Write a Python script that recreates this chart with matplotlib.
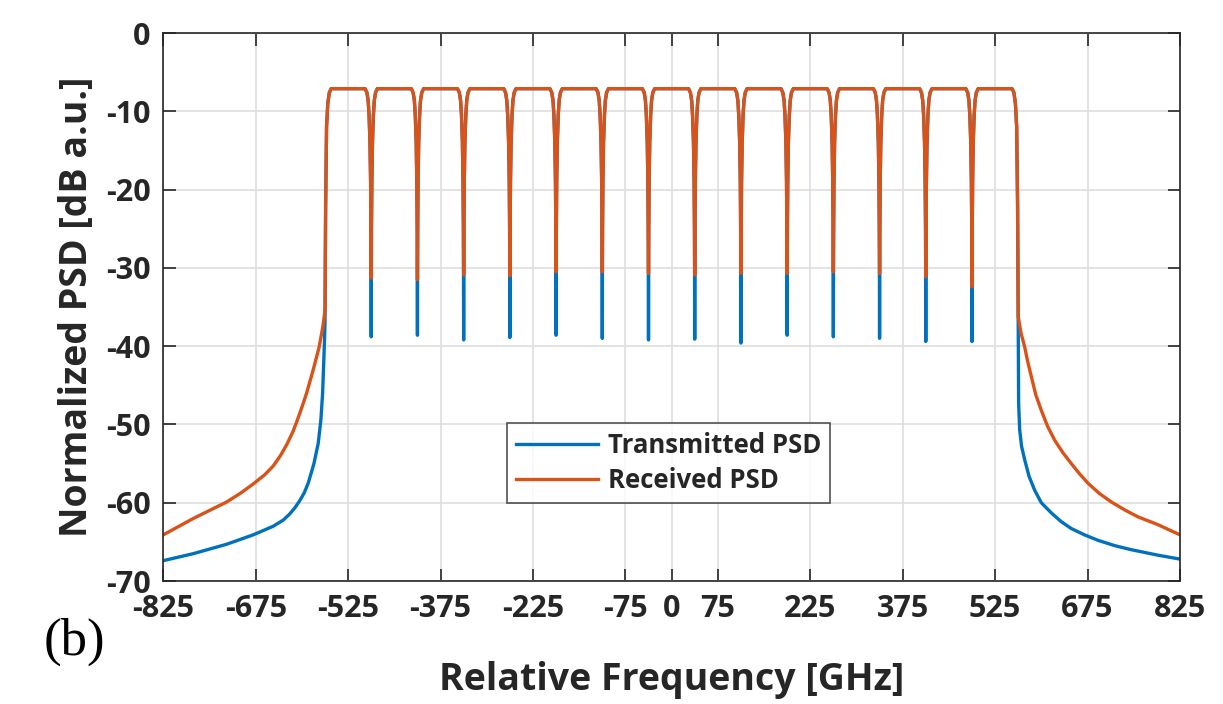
import numpy as np
import matplotlib
matplotlib.use("Agg")
import matplotlib.pyplot as plt

# Channel notch positions (GHz) and the bottom level of each notch (dB)
dip_freqs = [-487.5, -412.5, -337.5, -262.5, -187.5, -112.5, -37.5,
             37.5, 112.5, 187.5, 262.5, 337.5, 412.5, 487.5]
tx_dip_db = [-38.8, -38.6, -39.2, -38.9, -38.6, -39.0, -39.2,
             -39.1, -39.6, -38.6, -38.8, -39.0, -39.4, -39.4]
rx_dip_db = [-31.3, -31.5, -30.9, -31.0, -30.5, -30.5, -30.7,
             -30.9, -30.7, -30.7, -30.5, -30.7, -31.1, -32.4]

# Band edges
band_edges = [-562.5, 562.5]

# Notch shape (offset from notch centre in GHz, level in dB)
notch_off = [-10, -7, -5, -3.5, -2, -1, -0.4, 0, 0.4, 1, 2, 3.5, 5, 7, 10]
notch_db = [-7.1, -7.6, -8.6, -10.5, -14, -19, -25, None, -25, -19, -14, -10.5, -8.6, -7.6, -7.1]

# Band-edge roll-off (inward offset from edge in GHz, level in dB)
edge_off = [1, 2.5, 4.5, 7, 10]
edge_db = [-22, -12, -9, -7.6, -7.1]

# Out-of-band tails
tx_left_f = [-825, -776, -722, -679, -646.5, -630, -619.4, -611, -603.2, -596,
             -589.8, -580.5, -573.5, -569.2, -566.4, -564.5, -563.2, -562.5]
tx_left_db = [-67.4, -66.5, -65.3, -64.1, -63.0, -62.2, -61.4, -60.6, -59.7, -58.7,
              -57.5, -55.0, -52.4, -49.4, -46.0, -42.0, -39.0, -36.8]
rx_left_f = [-825, -776, -722, -700, -679, -660, -646.5, -635, -624.8, -615,
             -608.6, -600, -592.4, -581.6, -572, -566, -562.5]
rx_left_db = [-64.1, -62.0, -59.9, -58.8, -57.6, -56.4, -55.3, -54.0, -52.6, -51.0,
              -49.7, -47.8, -46.0, -43.0, -40.1, -37.5, -35.5]
tx_right_f = [562.5, 563.2, 564.9, 568, 573, 580, 589.2, 600, 616.3, 632, 648.7,
              670, 691.9, 720, 746, 789.2, 825]
tx_right_db = [-36.7, -47.3, -50.7, -52.8, -54.5, -56.6, -58.4, -60.0, -61.3, -62.4,
               -63.3, -64.1, -64.8, -65.5, -66.0, -66.7, -67.2]
rx_right_f = [562.5, 567, 573, 578, 583.8, 591, 600, 610, 621.6, 635, 648.7,
              662, 675.7, 694, 713.6, 735, 756.8, 789.2, 825]
rx_right_db = [-36.2, -38.3, -40.1, -42.0, -43.9, -46.2, -48.2, -50.2, -52.0, -53.6,
               -55.0, -56.3, -57.5, -58.8, -59.9, -60.9, -61.8, -62.8, -64.1]

x_ticks = [-825, -675, -525, -375, -225, -75, 0, 75, 225, 375, 525, 675, 825]


def build_trace(left_f, left_db, dips, right_f, right_db):
    f = list(left_f)
    p = list(left_db)
    # left band edge
    for o, d in zip(edge_off, edge_db):
        f.append(band_edges[0] + o)
        p.append(d)
    # notches between channels
    for c, bottom in zip(dip_freqs, dips):
        for o, d in zip(notch_off, notch_db):
            f.append(c + o)
            p.append(bottom if d is None else d)
    # right band edge
    for o, d in zip(edge_off[::-1], edge_db[::-1]):
        f.append(band_edges[1] - o)
        p.append(d)
    f += list(right_f)
    p += list(right_db)
    return np.array(f), np.array(p)


tx_f, tx_p = build_trace(tx_left_f, tx_left_db, tx_dip_db, tx_right_f, tx_right_db)
rx_f, rx_p = build_trace(rx_left_f, rx_left_db, rx_dip_db, rx_right_f, rx_right_db)

plt.rcParams['font.family'] = ['Open Sans', 'DejaVu Sans']
plt.rcParams['axes.unicode_minus'] = False
text_color = '#262626'

fig = plt.figure(figsize=(12.23, 7.04), dpi=100)
ax = fig.add_axes([0.1335, 0.1747, 0.8313, 0.7783])

ax.plot(tx_f, tx_p, color='#0072BD', lw=2.4, label='Transmitted PSD')
ax.plot(rx_f, rx_p, color='#D95319', lw=2.4, label='Received PSD')

ax.set_xlim(-825, 825)
ax.set_ylim(-70, 0)
ax.set_xticks(x_ticks)
ax.set_xticklabels([str(t) for t in x_ticks])
ax.set_yticks(range(-70, 1, 10))

ax.grid(True, color='#dedede', lw=1.2)
ax.set_axisbelow(True)
ax.tick_params(direction='in', top=True, right=True, length=9, width=1.2,
               colors=text_color, labelsize=22, pad=9)
for lab in ax.get_xticklabels() + ax.get_yticklabels():
    lab.set_fontweight('bold')
for s in ax.spines.values():
    s.set_color(text_color)
    s.set_linewidth(1.2)

ax.set_xlabel('Relative Frequency [GHz]', fontsize=27, fontweight='bold',
              color=text_color, labelpad=27)
ax.set_ylabel('Normalized PSD [dB a.u.]', fontsize=27, fontweight='bold',
              color=text_color, labelpad=7)

leg = ax.legend(loc='center', bbox_to_anchor=(0.497, 0.216), fancybox=False,
                edgecolor=text_color, prop={'size': 18.5, 'weight': 'bold'},
                handlelength=3.2, handletextpad=0.4, borderpad=0.35,
                labelspacing=0.3)
leg.get_frame().set_linewidth(1.2)
for t in leg.get_texts():
    t.set_color(text_color)

fig.text(0.061, 0.088, '(b)', fontsize=38, family='Liberation Serif',
         ha='center', va='center', color='black')

fig.savefig('out.png', dpi=100)
